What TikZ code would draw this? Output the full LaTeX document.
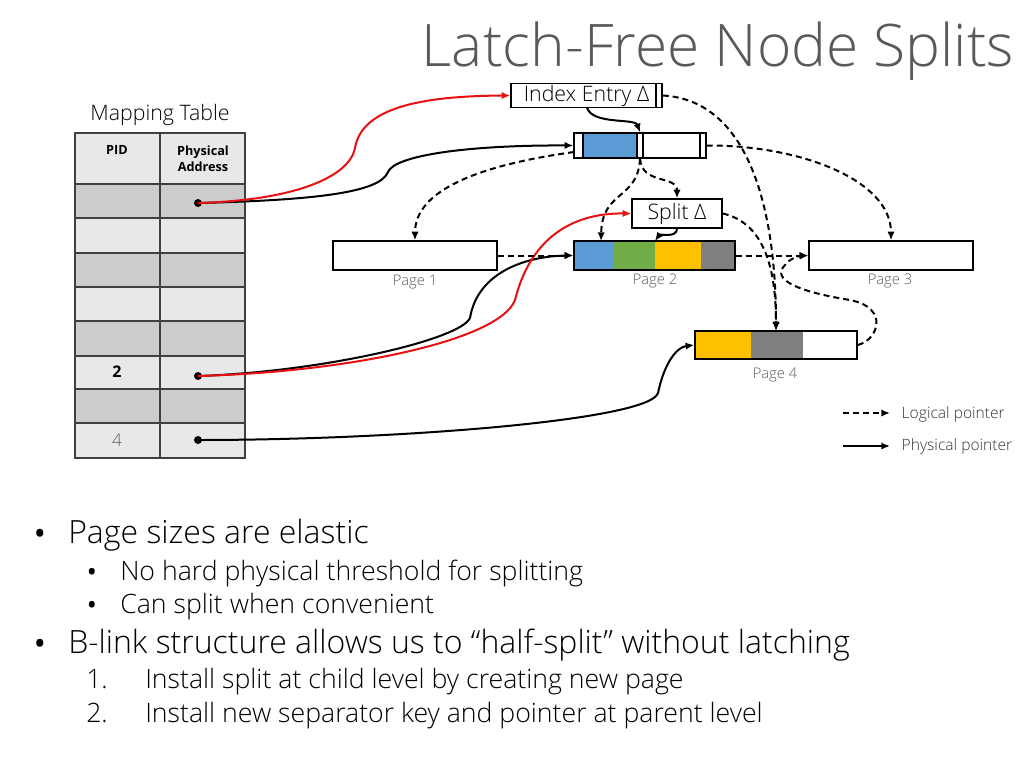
\documentclass[tikz,border=0pt]{standalone}
\usepackage{fontspec}
\setmainfont{Open Sans Light}[BoldFont={Open Sans Bold}]
\usepackage{tikz}
\usetikzlibrary{arrows.meta}

\definecolor{cblue}{HTML}{5B9BD5}
\definecolor{cgreen}{HTML}{70AD47}
\definecolor{cyellow}{HTML}{FFC000}
\definecolor{cgray}{HTML}{7F7F7F}
\definecolor{clight}{HTML}{E8E8E8}
\definecolor{cdark}{HTML}{CCCCCC}
\definecolor{cred}{HTML}{E81010}
\definecolor{ctext}{HTML}{595959}
\newcommand{\pxl}{0.75pt}

\begin{document}
\begin{tikzpicture}[x=0.75pt,y=-0.75pt]
	\tikzstyle{box}=[draw, line width=1.1pt, inner sep=0pt, font=\fontsize{16}{18}\selectfont]
	\tikzstyle{page}=[box, minimum height=29*\pxl]
	\tikzstyle{lbl}=[text=ctext, font=\fontsize{11}{13}\selectfont]
	\tikzstyle{dot}=[circle, fill=black, inner sep=0pt, minimum size=6pt]
	\tikzstyle{phys}=[line width=1.5pt, -{Latex[length=6.5pt,width=5.5pt]}]
	\tikzstyle{logi}=[phys, dash pattern=on 4.5pt off 3pt]
	\tikzstyle{bul}=[anchor=base west, inner sep=0pt]
	\tikzstyle{mark1}=[anchor=base, inner sep=0pt, font=\fontsize{19}{22}\selectfont]
	\tikzstyle{mark2}=[anchor=base, inner sep=0pt, font=\fontsize{16}{18}\selectfont]

	\useasboundingbox (0,0) rectangle (1024,768);

	% title
	\node[text=ctext, font=\fontsize{44}{48}\selectfont, anchor=base, inner sep=0pt] (title) at (718,66) {Latch-Free Node Splits};

	% mapping table
	\node[font=\fontsize{16}{18}\selectfont] (mtab) at (160,115) {Mapping Table};
	\fill[clight] (75,133) rectangle (245,458);
	\fill[cdark] (75,184) rectangle (245,218);
	\fill[cdark] (75,253) rectangle (245,287);
	\fill[cdark] (75,321) rectangle (245,356);
	\fill[cdark] (75,389) rectangle (245,423);
	\draw[line width=1pt, black!75] (75,133) rectangle (245,458) (160,133) -- (160,458);
	\foreach \yy in {184,218,253,287,321,356,389,423}
		\draw[line width=1pt, black!75] (75,\yy) -- (245,\yy);
	\node[font=\bfseries\fontsize{9.5}{12}\selectfont] (pid) at (117,150) {PID};
	\node[font=\bfseries\fontsize{9.5}{12}\selectfont, align=center] (paddr) at (203,159) {Physical\\Address};
	\node[font=\bfseries\fontsize{12}{14}\selectfont] (pid2) at (117,372) {2};
	\node[text=ctext, font=\fontsize{13}{15}\selectfont] (pid4) at (117,440) {4};
	\node[dot] (d1) at (198,203) {};
	\node[dot] (d2) at (198,376) {};
	\node[dot] (d4) at (198,440) {};

	% pages
	\fill[cblue] (583,133) rectangle (637,158);
	\node[box, minimum width=132*\pxl, minimum height=25*\pxl] (parent) at (640,145.5) {};
	\draw[line width=1pt] (583,133) -- (583,158) (637,133) -- (637,158) (643,133) -- (643,158) (700,133) -- (700,158);
	\node[box, minimum width=151*\pxl, minimum height=24*\pxl] (idx) at (586.5,95.5) {Index Entry Δ};
	\draw[line width=1pt] (656,83.5) -- (656,107.5);
	\node[box, minimum width=90*\pxl, minimum height=29*\pxl] (split) at (677,213.5) {Split Δ};

	\fill[cblue] (574,241) rectangle (613,270);
	\fill[cgreen] (613,241) rectangle (655,270);
	\fill[cyellow] (655,241) rectangle (701,270);
	\fill[cgray] (701,241) rectangle (735,270);
	\fill[cyellow] (695,331) rectangle (751,359);
	\fill[cgray] (751,331) rectangle (803,359);
	\node[page, minimum width=164*\pxl] (page1) at (415,255.5) {};
	\node[page, minimum width=161*\pxl] (page2) at (654.5,255.5) {};
	\node[page, minimum width=164*\pxl] (page3) at (891,255.5) {};
	\node[page, minimum width=162*\pxl, minimum height=28*\pxl] (page4) at (776,345) {};
	\node[lbl] (p1) at (415,282) {Page 1};
	\node[lbl] (p2) at (655,281) {Page 2};
	\node[lbl] (p3) at (890,281) {Page 3};
	\node[lbl] (p4) at (775,375) {Page 4};

	% physical pointers
	\draw[phys] (d1.center) .. controls (320,200) and (380,192) .. (388,172) .. controls (395,155) and (470,145) .. (parent.west);
	\draw[phys] (d2.center) .. controls (320,372) and (460,340) .. (470,318) .. controls (478,270) and (530,256) .. (page2.west);
	\draw[phys] (d4.center) .. controls (400,440) and (650,420) .. (658,393) .. controls (665,360) and (678,347) .. (page4.west);
	\draw[phys, cred] (d1.center) .. controls (300,200) and (350,175) .. (355,148) .. controls (362,105) and (430,96) .. (idx.west);
	\draw[phys, cred] (d2.center) .. controls (350,372) and (500,340) .. (515,300) .. controls (530,240) and (570,213) .. (split.west);
	\draw[phys] (587,107.5) .. controls (592,125) and (635,118) .. (parent.north);
	\draw[phys] (split.south) .. controls (677,238) and (660,234) .. (655,241);

	% logical pointers
	\draw[logi] (574,152) .. controls (480,165) and (415,190) .. (page1.north);
	\draw[logi] (parent.south) .. controls (642,185) and (677,175) .. (split.north);
	\draw[logi] (parent.south) .. controls (638,200) and (602,190) .. (601,241);
	\draw[logi] (parent.east) .. controls (800,145) and (891,180) .. (page3.north);
	\draw[logi] (idx.east) .. controls (745,100) and (776,200) .. (776,331);
	\draw[logi] (split.east) .. controls (760,222) and (776,260) .. (page4.north);
	\draw[logi] (page1.east) -- (page2.west);
	\draw[logi] (page2.east) -- (page3.west);
	\draw[logi] (page4.east) .. controls (878,340) and (890,308) .. (850,300) .. controls (800,292) and (770,280) .. (785,265) .. controls (790,258) and (800,256) .. (page3.west);

	% legend
	\coordinate (la) at (843,413);
	\coordinate (lb) at (890,413);
	\coordinate (lc) at (843,446);
	\coordinate (ld) at (890,446);
	\draw[logi] (la) -- (lb);
	\draw[phys] (lc) -- (ld);
	\node[lbl, text=black!80, font=\fontsize{11.7}{13}\selectfont, anchor=west] (lg1) at (897,414) {Logical pointer};
	\node[lbl, text=black!80, font=\fontsize{11.7}{13}\selectfont, anchor=west] (lg2) at (897,446) {Physical pointer};

	% bullets
	\node[mark1] (m1) at (40,542) {\textbf{•}};
	\node[bul, font=\fontsize{24}{26}\selectfont] (b1) at (68,543) {Page sizes are elastic};
	\node[mark2] (m2) at (92,579) {\textbf{•}};
	\node[bul, font=\fontsize{20}{22}\selectfont] (b2) at (120,580) {No hard physical threshold for splitting};
	\node[mark2] (m3) at (92,612) {\textbf{•}};
	\node[bul, font=\fontsize{20}{22}\selectfont] (b3) at (120,613) {Can split when convenient};
	\node[mark1] (m4) at (40,652) {\textbf{•}};
	\node[bul, font=\fontsize{24}{26}\selectfont] (b4) at (68,653) {B-link structure allows us to “half-split” without latching};
	\node[bul, font=\fontsize{20}{22}\selectfont] (m5) at (86,688) {1.};
	\node[bul, font=\fontsize{20}{22}\selectfont] (b5) at (145,688) {Install split at child level by creating new page};
	\node[bul, font=\fontsize{20}{22}\selectfont] (m6) at (86,722) {2.};
	\node[bul, font=\fontsize{20}{22}\selectfont] (b6) at (145,722) {Install new separator key and pointer at parent level};
\end{tikzpicture}
\end{document}
